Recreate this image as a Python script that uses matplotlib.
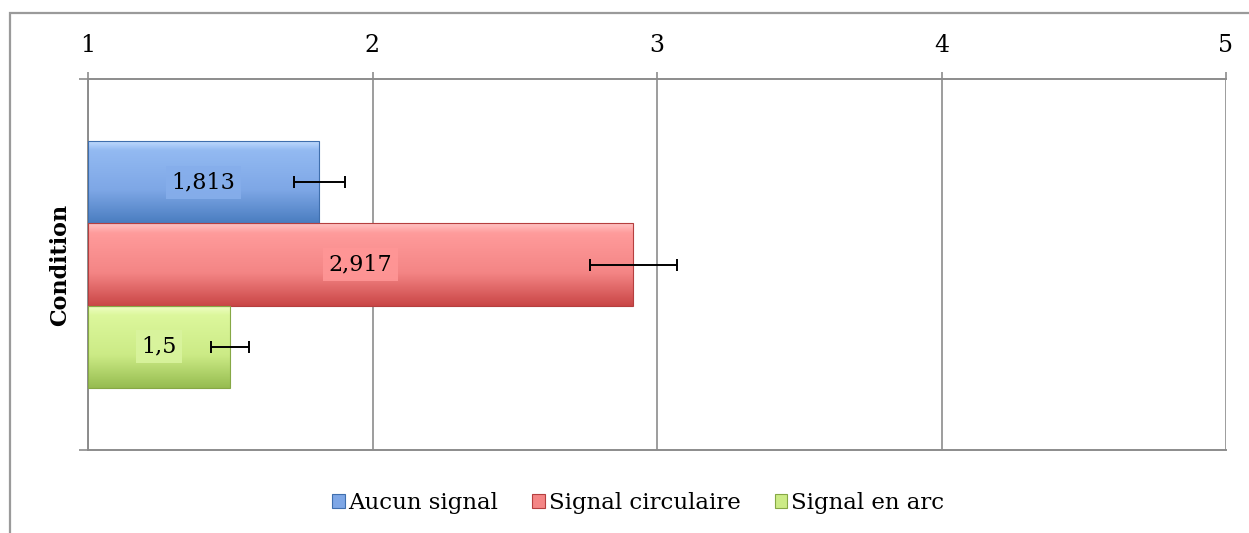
import matplotlib
matplotlib.use("Agg")
import matplotlib.pyplot as plt
import numpy as np
from matplotlib.colors import LinearSegmentedColormap
from matplotlib.patches import Rectangle

# data
conditions = ["Aucun signal", "Signal circulaire", "Signal en arc"]
means = [1.813, 2.917, 1.5]
errors = [0.09, 0.153, 0.067]
value_labels = ["1,813", "2,917", "1,5"]
x_ticks = [1, 2, 3, 4, 5]
axis_title = "Condition"

# gradient stops per series (top highlight, body, bottom shade)
GRADIENTS = [
    ["#C4DEFF", "#93BAF2", "#7EA7E6", "#4A7DC0"],
    ["#FFC4C4", "#FF9B9B", "#F48585", "#C94646"],
    ["#F0FFC8", "#DCF79C", "#CCEB86", "#96BC50"],
]
LABEL_BOX = ["#86AEEB", "#FF9696", "#D9F49E"]
EDGES = ["#3F6FAE", "#B53F3F", "#86A845"]

plt.rcParams["font.family"] = ["DejaVu Serif"]

fig = plt.figure(figsize=(12.49, 5.33), dpi=100)
ax = fig.add_axes([88 / 1249, 83 / 533, 1138 / 1249, 371 / 533])

# outer chart frame (runs off the right and bottom of the picture)
fig.patches.append(Rectangle((10 / 1249, -0.1), 1.2, (533 - 13) / 533 + 0.1,
                             transform=fig.transFigure, fill=False,
                             edgecolor="#9A9A9A", linewidth=1.6, zorder=0))

bar_h = 0.222
ys = [0.5 + bar_h, 0.5, 0.5 - bar_h]

bars = ax.barh(ys, np.array(means) - 1, left=1, height=bar_h,
               color="none", edgecolor="none", zorder=3)

grad = np.linspace(0, 1, 256).reshape(-1, 1)
for i, b in enumerate(bars):
    cmap = LinearSegmentedColormap.from_list(
        f"g{i}", list(zip([0, 0.12, 0.6, 1.0], GRADIENTS[i])))
    x0, y0 = b.get_x(), b.get_y()
    w, h = b.get_width(), b.get_height()
    im = ax.imshow(grad, cmap=cmap, aspect="auto", origin="upper",
                   extent=[x0, x0 + w, y0, y0 + h], zorder=2,
                   interpolation="bicubic")
    im.set_clip_path(b)
    ax.add_patch(Rectangle((x0, y0), w, h, fill=False, edgecolor=EDGES[i],
                           linewidth=0.8, zorder=3))
    ax.text(x0 + w / 2, y0 + h / 2, value_labels[i], ha="center",
            va="center", fontsize=16, zorder=5,
            bbox=dict(boxstyle="square,pad=0.25", facecolor=LABEL_BOX[i],
                      edgecolor="none", alpha=0.9))

ax.errorbar(means, ys, xerr=errors, fmt="none", ecolor="black",
            elinewidth=1.4, capsize=4.3, capthick=1.4, zorder=6)

ax.set_xlim(1, 5)
ax.set_ylim(0, 1)
ax.set_xticks(x_ticks)
ax.set_xticklabels([str(t) for t in x_ticks])
ax.xaxis.tick_top()
ax.tick_params(axis="x", direction="out", length=5, width=1.2,
               color="#8C8C8C", labelsize=17, pad=11)
ax.set_yticks([0, 1])
ax.set_yticklabels(["", ""])
ax.tick_params(axis="y", direction="out", length=6.5, width=1.2,
               color="#8C8C8C")
ax.grid(True, axis="x", color="#8C8C8C", linewidth=1.2, zorder=1)
ax.set_axisbelow(True)
for side in ["top", "bottom", "left"]:
    ax.spines[side].set_color("#8C8C8C")
    ax.spines[side].set_linewidth(1.4)
ax.spines["right"].set_visible(False)

ax.set_ylabel(axis_title, fontsize=16, fontweight="bold", labelpad=2)

# legend with small gradient-looking squares
handles = [Rectangle((0, 0), 1, 1, facecolor=GRADIENTS[i][2],
                     edgecolor=EDGES[i], linewidth=0.8)
           for i in range(len(conditions))]
fig.legend(handles, conditions, loc="center", ncol=3,
           bbox_to_anchor=(638 / 1249, 30 / 533), frameon=False,
           fontsize=16.5, handlelength=0.55, handleheight=0.55,
           handletextpad=0.15, columnspacing=1.5)

fig.savefig("out.png", dpi=100)
